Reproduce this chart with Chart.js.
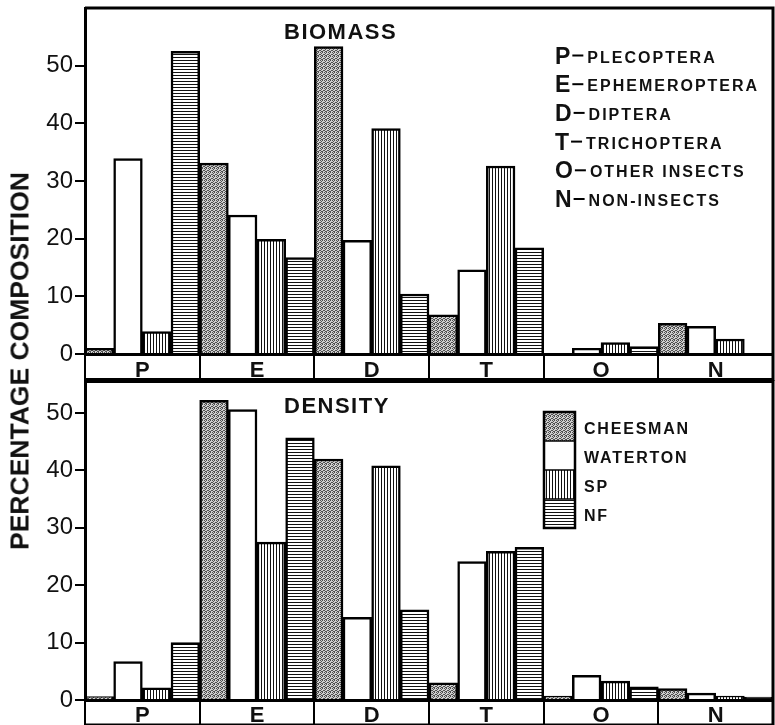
<!DOCTYPE html>
<html>
<head>
<meta charset="utf-8">
<script src="https://cdn.jsdelivr.net/npm/chart.js@4.4.1/dist/chart.umd.min.js"></script>
<style>
  html, body { margin: 0; padding: 0; background: #fff; }
  #wrap { position: relative; width: 775px; height: 725px; overflow: hidden; }
  #chartTop { position: absolute; left: 0; top: 0; }
  #chartBot { position: absolute; left: 0; top: 380px; }
  #yTitle {
    position: absolute; left: 20px; top: 361px;
    transform: translate(-50%, -50%) rotate(-90deg);
    font: bold 26.5px 'Liberation Sans', Arial, sans-serif;
    white-space: nowrap; color: #111;
  }
</style>
</head>
<body>
<div id="wrap">
  <canvas id="chartTop" width="775" height="382"></canvas>
  <canvas id="chartBot" width="775" height="345"></canvas>
  <div id="yTitle">PERCENTAGE COMPOSITION</div>
</div>
<script>
/* Percentage composition of benthic insects — biomass vs density */

const FONT = "'Liberation Sans', Arial, sans-serif";

const categories = ['P', 'E', 'D', 'T', 'O', 'N'];
const sites = ['CHEESMAN', 'WATERTON', 'SP', 'NF'];
const taxaNames = ['PLECOPTERA', 'EPHEMEROPTERA', 'DIPTERA', 'TRICHOPTERA', 'OTHER INSECTS', 'NON-INSECTS'];
const yTicks = [0, 10, 20, 30, 40, 50];

// biomass (%)
const biomassCheesman = [1.0, 33.1, 53.3, 6.8, 0, 5.3];
const biomassWaterton = [33.9, 24.1, 19.7, 14.6, 1.0, 4.8];
const biomassSP       = [3.9, 19.9, 39.1, 32.6, 2.0, 2.6];
const biomassNF       = [52.5, 16.7, 10.4, 18.4, 1.3, 0];

// density (%)
const densityCheesman = [0.6, 52.2, 42.0, 3.0, 0.7, 2.0];
const densityWaterton = [6.7, 50.6, 14.4, 24.1, 4.3, 1.2];
const densitySP       = [2.1, 27.5, 40.8, 25.9, 3.3, 0.7];
const densityNF       = [10.0, 45.7, 15.7, 26.6, 2.3, 0.5];

// fill patterns
function makePattern(kind) {
  const c = document.createElement('canvas');
  const g = c.getContext('2d');
  if (kind === 'stipple') {
    c.width = 4; c.height = 4;
    g.fillStyle = '#cfcfcf'; g.fillRect(0, 0, 4, 4);
    g.fillStyle = '#505050';
    [[0,0],[2,0],[1,1],[3,2],[0,2],[2,3],[1,3]].forEach(([x, y]) => g.fillRect(x, y, 1, 1));
  } else if (kind === 'vert') {
    c.width = 3; c.height = 3;
    g.fillStyle = '#fff'; g.fillRect(0, 0, 3, 3);
    g.fillStyle = '#111'; g.fillRect(0, 0, 1, 3);
  } else if (kind === 'horiz') {
    c.width = 3; c.height = 3;
    g.fillStyle = '#fff'; g.fillRect(0, 0, 3, 3);
    g.fillStyle = '#111'; g.fillRect(0, 0, 3, 1);
  } else {
    c.width = 1; c.height = 1;
    g.fillStyle = '#fff'; g.fillRect(0, 0, 1, 1);
  }
  return g.createPattern(c, 'repeat');
}
const fills = [makePattern('stipple'), makePattern('white'), makePattern('vert'), makePattern('horiz')];

function datasets(series) {
  return series.map((d, i) => ({
    label: sites[i], data: d,
    backgroundColor: fills[i], borderColor: '#000', borderWidth: 2.5,
    barPercentage: 1, categoryPercentage: 1
  }));
}

// frame + panel title + custom legends
const framePlugin = {
  id: 'frame',
  afterDraw(chart, args, opts) {
    const { ctx, chartArea: a, scales: { x } } = chart;
    ctx.save();
    ctx.strokeStyle = '#000';
    ctx.lineWidth = 3;
    ctx.beginPath();
    ctx.moveTo(a.left, a.top); ctx.lineTo(a.right, a.top); ctx.lineTo(a.right, x.top + opts.strip);
    ctx.stroke();
    ctx.lineWidth = opts.baseWidth;
    ctx.beginPath();
    ctx.moveTo(a.left, x.top + opts.strip - opts.baseWidth / 2); ctx.lineTo(a.right, x.top + opts.strip - opts.baseWidth / 2);
    ctx.stroke();

    ctx.fillStyle = '#111';
    ctx.font = `bold 22px ${FONT}`;
    ctx.letterSpacing = '1.5px';
    ctx.textBaseline = 'alphabetic';
    ctx.fillText(opts.title, a.left + 199, a.top + 31);

    if (opts.kind === 'taxa') {
      taxaNames.forEach((name, i) => {
        const y = a.top + 55.5 + i * 28.7;
        const x0 = a.left + 470;
        ctx.font = `bold 23px ${FONT}`;
        ctx.letterSpacing = '0px';
        ctx.fillText(categories[i], x0, y);
        const w = ctx.measureText(categories[i]).width;
        ctx.lineWidth = 2;
        ctx.beginPath();
        ctx.moveTo(x0 + w + 2, y - 8); ctx.lineTo(x0 + w + 13, y - 8);
        ctx.stroke();
        ctx.font = `bold 16px ${FONT}`;
        ctx.letterSpacing = '2px';
        ctx.fillText(name, x0 + w + 17, y - 1);
      });
    } else {
      const bx = a.left + 459, by = a.top + 30.5, bw = 31, bh = 29;
      sites.forEach((s, i) => {
        ctx.fillStyle = fills[i];
        ctx.fillRect(bx, by + i * bh, bw, bh);
        ctx.fillStyle = '#111';
        ctx.font = `bold 16px ${FONT}`;
        ctx.letterSpacing = '1.8px';
        ctx.textBaseline = 'middle';
        ctx.fillText(s, bx + 40, by + i * bh + bh / 2 + 3);
      });
      ctx.lineWidth = 2.5;
      ctx.strokeRect(bx, by, bw, bh * 4);
      ctx.lineWidth = 1.5;
      for (let i = 1; i < 4; i++) {
        ctx.beginPath(); ctx.moveTo(bx, by + i * bh); ctx.lineTo(bx + bw, by + i * bh); ctx.stroke();
      }
    }
    ctx.restore();
  }
};

function makeChart(id, series, yMax, padTop, strip, labelTop, padBottom, baseWidth, title, kind) {
  return new Chart(document.getElementById(id), {
    type: 'bar',
    data: { labels: categories, datasets: datasets(series) },
    plugins: [framePlugin],
    options: {
      responsive: false, animation: false,
      layout: { padding: { top: padTop, right: 2, left: 0, bottom: padBottom } },
      plugins: {
        legend: { display: false }, tooltip: { enabled: false },
        frame: { title, kind, strip, baseWidth }
      },
      scales: {
        x: {
          grid: { offset: true, drawOnChartArea: false, drawTicks: true, tickLength: strip, color: '#000', lineWidth: 2 },
          border: { color: '#000', width: 3 },
          ticks: { color: '#111', font: { family: FONT, size: 22, weight: 'bold' }, padding: labelTop - strip, maxRotation: 0, autoSkip: false },
          afterFit: s => { s.height = strip; s.paddingLeft = 0; s.paddingRight = 0; }
        },
        y: {
          min: 0, max: yMax,
          afterBuildTicks: s => { s.ticks = yTicks.map(v => ({ value: v })); },
          grid: { drawOnChartArea: false, tickLength: 10, color: '#000', lineWidth: 2 },
          border: { color: '#000', width: 3 },
          ticks: { color: '#111', font: { family: FONT, size: 24 }, padding: 2 },
          afterFit: s => { s.width = 85; s.paddingTop = 0; s.paddingBottom = 0; }
        }
      }
    }
  });
}

makeChart('chartTop', [biomassCheesman, biomassWaterton, biomassSP, biomassNF], 60, 8, 27, 4, 1, 3, 'BIOMASS', 'taxa');
makeChart('chartBot', [densityCheesman, densityWaterton, densitySP, densityNF], 55.5, 1.5, 25, 3, 0, 1.5, 'DENSITY', 'sites');
</script>
</body>
</html>
